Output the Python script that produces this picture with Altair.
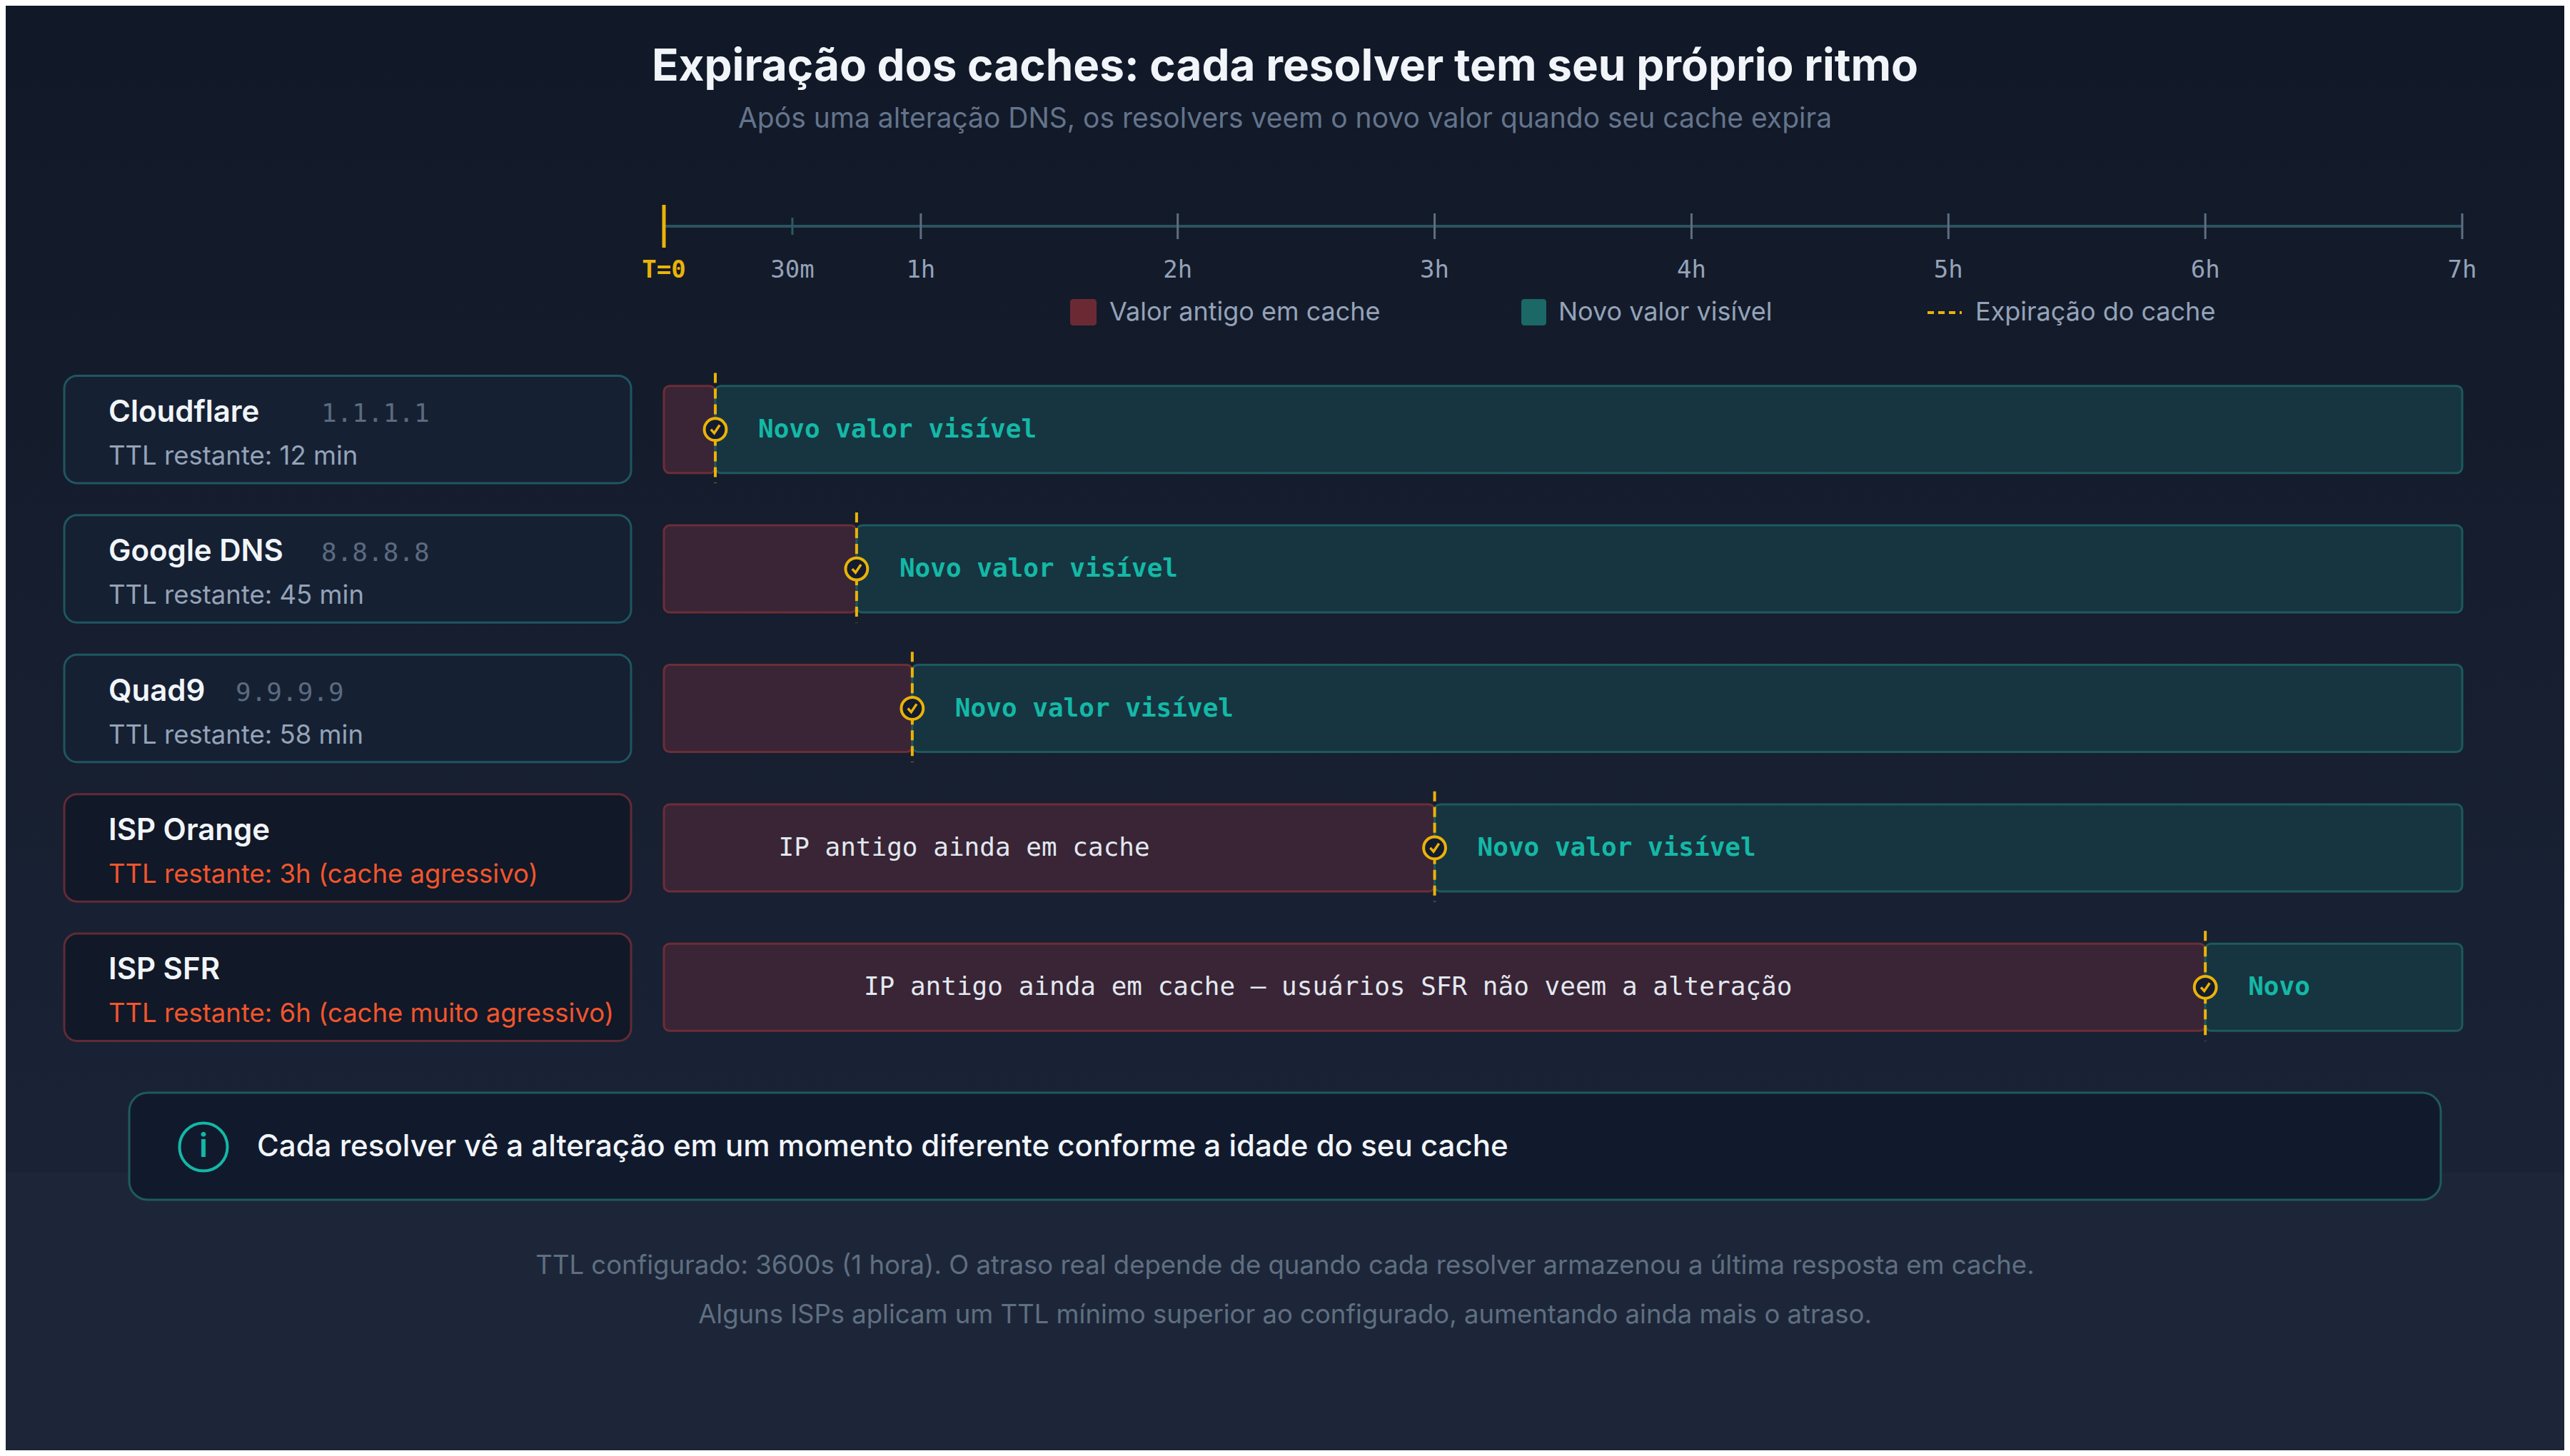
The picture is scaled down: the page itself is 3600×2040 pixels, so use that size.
import altair as alt
import pandas as pd

# values
resolvers = ["Cloudflare", "Google DNS", "Quad9", "ISP Orange", "ISP SFR"]
resolver_ips = ["1.1.1.1", "8.8.8.8", "9.9.9.9", "", ""]
ttl_texts = [
    "TTL restante: 12 min",
    "TTL restante: 45 min",
    "TTL restante: 58 min",
    "TTL restante: 3h (cache agressivo)",
    "TTL restante: 6h (cache muito agressivo)",
]
expiry_minutes = [12, 45, 58, 180, 360]
resolver_kinds = ["public", "public", "public", "isp", "isp"]
new_labels = ["Novo valor visível", "Novo valor visível", "Novo valor visível",
              "Novo valor visível", "Novo"]
old_labels = ["", "", "", "IP antigo ainda em cache",
              "IP antigo ainda em cache — usuários SFR não veem a alteração"]

tick_hours = [0, 0.5, 1, 2, 3, 4, 5, 6, 7]
tick_labels = ["T=0", "30m", "1h", "2h", "3h", "4h", "5h", "6h", "7h"]
horizon_hours = 7

legend_labels = ["Valor antigo em cache", "Novo valor visível", "Expiração do cache"]

title_text = "Expiração dos caches: cada resolver tem seu próprio ritmo"
subtitle_text = "Após uma alteração DNS, os resolvers veem o novo valor quando seu cache expira"
info_text = "Cada resolver vê a alteração em um momento diferente conforme a idade do seu cache"
footer_lines = [
    "TTL configurado: 3600s (1 hora). O atraso real depende de quando cada resolver armazenou a última resposta em cache.",
    "Alguns ISPs aplicam um TTL mínimo superior ao configurado, aumentando ainda mais o atraso.",
]

SANS = "Inter"
MONO = "DejaVu Sans Mono"
YELLOW = "#eab308"
TEAL = "#14b8a6"

W, H = 2519, 987
PAD = {"left": 922, "top": 491, "right": 143, "bottom": 546}
OFF = 6  # vertical nudge for everything drawn outside the rows

rows = pd.DataFrame({
    "resolver": resolvers,
    "ip": resolver_ips,
    "ttl": ttl_texts,
    "expiry_min": expiry_minutes,
    "kind": resolver_kinds,
    "new_label": new_labels,
    "old_label": old_labels,
})
rows["row"] = range(len(rows))
rows["expiry_h"] = rows["expiry_min"] / 60
rows["start_h"] = 0
rows["end_h"] = horizon_hours

ticks = pd.DataFrame({"hour": tick_hours, "label": tick_labels})
one = pd.DataFrame({"k": [0]})

xs = alt.Scale(domain=[0, horizon_hours], nice=False, zero=False)
ys = alt.Scale(domain=[-0.5, len(resolvers) - 0.5], reverse=True, nice=False, zero=False)


def X(f):
    return alt.X(f, type="quantitative", scale=xs, axis=None)


def Y(f):
    return alt.Y(f, type="quantitative", scale=ys, axis=None)


def vy(v):
    return alt.value(v + OFF)


kind_fill = alt.Scale(domain=["public", "isp"], range=["#162033", "#111827"])
kind_stroke = alt.Scale(domain=["public", "isp"], range=["#1f5660", "#622b35"])
kind_text = alt.Scale(domain=["public", "isp"], range=["#94a3b8", "#f2552c"])

# page background (darker upper part)
bg = alt.Chart(one).mark_rect(
    fill=alt.LinearGradient(
        gradient="linear",
        stops=[alt.GradientStop(color="#111827", offset=0),
               alt.GradientStop(color="#1a2336", offset=1)],
        x1=0, x2=0, y1=0, y2=1,
    )
).encode(x=alt.value(-PAD["left"]), x2=alt.value(W + PAD["right"]),
         y=alt.value(-PAD["top"]), y2=vy(1138))


def text_at(txt, px, py, **kw):
    return alt.Chart(pd.DataFrame({"t": [txt]})).mark_text(baseline="middle", **kw).encode(
        text="t:N", x=alt.value(px), y=vy(py))


title = text_at(title_text, 870, -411, font=SANS, fontSize=62, fontWeight=700,
                color="#f1f5f9", align="center")
subtitle = text_at(subtitle_text, 870, -338, font=SANS, fontSize=39,
                   color="#64748b", align="center")

# hand-drawn time axis
axis_line = alt.Chart(pd.DataFrame({"a": [0], "b": [horizon_hours]})).mark_rule(
    color="#2b5260", strokeWidth=4).encode(x=X("a"), x2="b:Q", y=vy(-188))
major_ticks = alt.Chart(ticks).transform_filter("datum.hour >= 1").mark_rule(
    color="#5f6e82", strokeWidth=3).encode(x=X("hour"), y=vy(-206), y2=vy(-170))
half_ticks = alt.Chart(ticks).transform_filter("datum.hour > 0 && datum.hour < 1").mark_rule(
    color="#2b5a66", strokeWidth=3).encode(x=X("hour"), y=vy(-200), y2=vy(-176))
zero_tick = alt.Chart(ticks).transform_filter("datum.hour == 0").mark_rule(
    color=YELLOW, strokeWidth=5).encode(x=X("hour"), y=vy(-218), y2=vy(-158))
tick_text = alt.Chart(ticks).transform_filter("datum.hour > 0").mark_text(
    font=MONO, fontSize=34, color="#94a3b8", baseline="middle").encode(
    x=X("hour"), y=vy(-126), text="label:N")
zero_text = alt.Chart(ticks).transform_filter("datum.hour == 0").mark_text(
    font=MONO, fontSize=34, fontWeight="bold", color=YELLOW, baseline="middle").encode(
    x=X("hour"), y=vy(-126), text="label:N")

# legend
leg_old = alt.Chart(one).mark_rect(color="#6b2a33", cornerRadius=4).encode(
    x=alt.value(569), x2=alt.value(606), y=vy(-86), y2=vy(-49))
leg_new = alt.Chart(one).mark_rect(color="#1b6866", cornerRadius=4).encode(
    x=alt.value(1201), x2=alt.value(1236), y=vy(-86), y2=vy(-49))
leg_exp = alt.Chart(one).mark_rule(color=YELLOW, strokeWidth=4, strokeDash=[9, 6]).encode(
    x=alt.value(1770), x2=alt.value(1818), y=vy(-67))
leg_texts = [
    text_at(legend_labels[0], 624, -67, font=SANS, fontSize=36, color="#94a3b8", align="left"),
    text_at(legend_labels[1], 1253, -67, font=SANS, fontSize=36, color="#94a3b8", align="left"),
    text_at(legend_labels[2], 1837, -67, font=SANS, fontSize=36, color="#94a3b8", align="left"),
]

base = alt.Chart(rows)

# resolver cards on the left
cards = base.transform_calculate(
    top="datum.row - 0.385", bot="datum.row + 0.385"
).mark_rect(cornerRadius=18, strokeWidth=3).encode(
    x=alt.value(-840), x2=alt.value(-46), y=Y("top"), y2="bot:Q",
    fill=alt.Fill("kind:N", scale=kind_fill, legend=None),
    stroke=alt.Stroke("kind:N", scale=kind_stroke, legend=None),
)
names = base.mark_text(font=SANS, fontSize=42, fontWeight=600, color="#f1f5f9",
                       align="left", baseline="middle", dy=-24).encode(
    x=alt.value(-778), y=Y("row"), text="resolver:N")
ips = base.transform_filter("datum.ip != ''").transform_calculate(
    ipx="-778 + 24 * length(datum.resolver) + 58"
).mark_text(font=MONO, fontSize=36, color="#5b6b80", align="left",
            baseline="middle", dy=-22).encode(
    x=alt.X("ipx:Q", scale=None), y=Y("row"), text="ip:N")
ttl = base.mark_text(font=SANS, fontSize=36.5, align="left", baseline="middle", dy=38).encode(
    x=alt.value(-778), y=Y("row"), text="ttl:N",
    color=alt.Color("kind:N", scale=kind_text, legend=None))

# timeline bars
old_bar = base.mark_bar(orient="horizontal", size=122, cornerRadius=8,
                        fill="#392535", stroke="#6e2d37", strokeWidth=3).encode(
    x=X("start_h"), x2="expiry_h:Q", y=Y("row"))
new_bar = base.mark_bar(orient="horizontal", size=122, cornerRadius=8,
                        fill="#163540", stroke="#1d5a5f", strokeWidth=3).encode(
    x=X("expiry_h"), x2="end_h:Q", y=Y("row"))
expiry_rule = base.transform_calculate(
    top="datum.row - 0.405", bot="datum.row + 0.385"
).mark_rule(color=YELLOW, strokeWidth=4, strokeDash=[14, 8]).encode(
    x=X("expiry_h"), y=Y("top"), y2="bot:Q")
check_ring = base.mark_point(shape="circle", size=950, filled=True, fill="#131b2e",
                             stroke=YELLOW, strokeWidth=4, opacity=1).encode(
    x=X("expiry_h"), y=Y("row"))
check_mark = base.mark_point(shape="M -0.5 0 L -0.12 0.42 L 0.5 -0.5", size=600,
                             filled=False, stroke=YELLOW, strokeWidth=3.5, opacity=1).encode(
    x=X("expiry_h"), y=Y("row"))
new_text = base.mark_text(font=MONO, fontSize=36, fontWeight="bold", color=TEAL,
                          align="left", baseline="middle", dx=60).encode(
    x=X("expiry_h"), y=Y("row"), text="new_label:N")
old_text = base.transform_filter("datum.old_label != ''").transform_calculate(
    mid="datum.expiry_h * 0.472"
).mark_text(font=MONO, fontSize=36, color="#e2e8f0", align="center",
            baseline="middle", dx=-89).encode(
    x=X("mid"), y=Y("row"), text="old_label:N")

# info box and footnotes
info_box = alt.Chart(one).mark_rect(cornerRadius=26, fill="#111a2d", stroke="#1f5a5e",
                                    strokeWidth=3).encode(
    x=alt.value(-749), x2=alt.value(2489), y=vy(1026), y2=vy(1176))
info_ring = alt.Chart(one).mark_point(shape="circle", size=4500, filled=False,
                                      stroke=TEAL, strokeWidth=4, opacity=1).encode(
    x=alt.value(-645), y=vy(1102))
info_i = text_at("i", -645, 1102, font=SANS, fontSize=46, fontWeight=600,
                 color=TEAL, align="center")
info_msg = text_at(info_text, -570, 1102, font=SANS, fontSize=42, fontWeight=500,
                   color="#f1f5f9", align="left")
foot1 = text_at(footer_lines[0], 870, 1269, font=SANS, fontSize=36.5,
                color="#5f6f82", align="center")
foot2 = text_at(footer_lines[1], 870, 1338, font=SANS, fontSize=36.5,
                color="#5f6f82", align="center")

chart = alt.layer(
    bg, title, subtitle,
    axis_line, half_ticks, major_ticks, zero_tick, tick_text, zero_text,
    leg_old, leg_new, leg_exp, *leg_texts,
    cards, names, ips, ttl,
    old_bar, new_bar, old_text, new_text, expiry_rule, check_ring, check_mark,
    info_box, info_ring, info_i, info_msg, foot1, foot2,
).properties(
    width=W,
    height=H,
    autosize=alt.AutoSizeParams(type="none"),
    padding=PAD,
    background="#1d2638",
).configure_view(stroke=None)

chart.save("out.html", embed_options={"renderer": "svg", "actions": False})
